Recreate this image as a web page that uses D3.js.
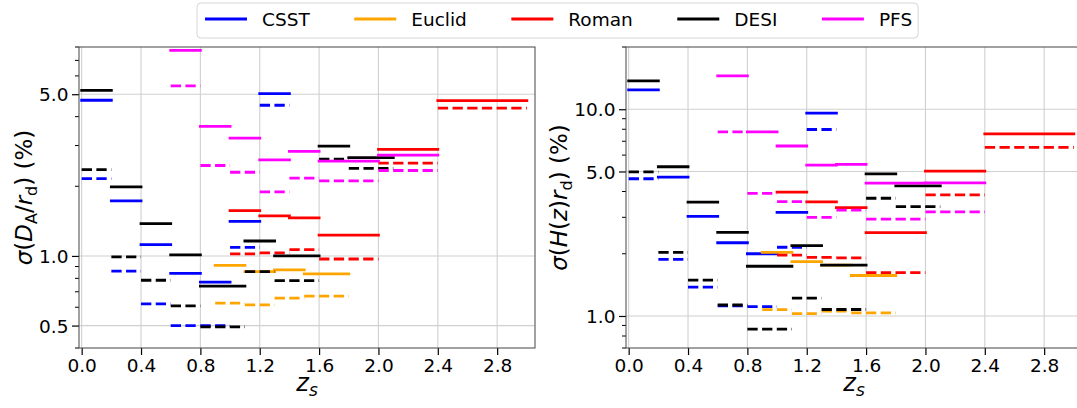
<!DOCTYPE html>
<html>
<head>
<meta charset="utf-8">
<script src="https://cdn.jsdelivr.net/npm/d3@7"></script>
<style>
  body { margin: 0; background: #fff; }
  text { font-family: "DejaVu Sans", sans-serif; }
</style>
</head>
<body>
<svg id="fig"></svg>
<script>
// figure size
const W = 1077, H = 408;

// surveys, legend order
const surveys = ["CSST", "Euclid", "Roman", "DESI", "PFS"];
const colors = ["#0000ff", "#ffa500", "#ff0000", "#000000", "#ff00ff"];

// redshift bin edges (low / high) per survey
const csstLo = [0.0, 0.2, 0.4, 0.6, 0.8, 1.0, 1.2];
const csstHi = [0.2, 0.4, 0.6, 0.8, 1.0, 1.2, 1.4];
const euclidLo = [0.9, 1.1, 1.3, 1.5];
const euclidHi = [1.1, 1.3, 1.5, 1.8];
const romanLo = [1.0, 1.2, 1.4, 1.6, 2.0, 2.4];
const romanHi = [1.2, 1.4, 1.6, 2.0, 2.4, 3.0];
const desiLo = [0.0, 0.2, 0.4, 0.6, 0.8, 1.1, 1.3, 1.6, 1.8];
const desiHi = [0.2, 0.4, 0.6, 0.8, 1.1, 1.3, 1.6, 1.8, 2.1];
const pfsLo = [0.6, 0.8, 1.0, 1.2, 1.4, 1.6, 2.0];
const pfsHi = [0.8, 1.0, 1.2, 1.4, 1.6, 2.0, 2.4];

// sigma(D_A/r_d) in %, solid and dashed
const csstDA = [4.71, 1.73, 1.12, 0.84, 0.77, 1.41, 5.03];
const csstDA2 = [2.16, 0.86, 0.62, 0.50, 0.50, 1.09, 4.48];
const euclidDA = [0.91, 0.855, 0.87, 0.836];
const euclidDA2 = [0.625, 0.615, 0.657, 0.67];
const romanDA = [1.57, 1.49, 1.46, 1.23, 2.89, 4.69];
const romanDA2 = [1.02, 1.03, 1.065, 0.97, 2.52, 4.35];
const desiDA = [5.2, 1.99, 1.38, 1.01, 0.74, 1.16, 1.0, 2.98, 2.66];
const desiDA2 = [2.36, 0.99, 0.785, 0.608, 0.494, 0.856, 0.782, 2.62, 2.39];
const pfsDA = [7.74, 3.63, 3.23, 2.60, 2.83, 2.57, 2.73];
const pfsDA2 = [5.43, 2.46, 2.30, 1.89, 2.17, 2.11, 2.34];

// sigma(H(z) r_d) in %, solid and dashed
const csstH = [12.4, 4.69, 3.03, 2.26, 2.00, 3.17, 9.57];
const csstH2 = [4.61, 1.88, 1.38, 1.12, 1.11, 2.15, 7.98];
const euclidH = [2.03, 1.83, 1.76, 1.57];
const euclidH2 = [1.073, 1.026, 1.055, 1.034];
const romanH = [3.97, 3.56, 3.34, 2.53, 5.02, 7.60];
const romanH2 = [1.97, 1.92, 1.91, 1.62, 3.85, 6.54];
const desiH = [13.7, 5.27, 3.55, 2.54, 1.74, 2.19, 1.76, 4.87, 4.26];
const desiH2 = [4.98, 2.03, 1.49, 1.13, 0.864, 1.22, 1.075, 3.71, 3.38];
const pfsH = [14.5, 7.77, 6.64, 5.37, 5.41, 4.39, 4.40];
const pfsH2 = [7.77, 3.92, 3.57, 3.0, 3.25, 2.94, 3.19];

// ticks
const zTicks = [0.0, 0.4, 0.8, 1.2, 1.6, 2.0, 2.4, 2.8];
const daTicks = [0.5, 1.0, 5.0];
const hTicks = [1.0, 5.0, 10.0];

const binsLo = [csstLo, euclidLo, romanLo, desiLo, pfsLo];
const binsHi = [csstHi, euclidHi, romanHi, desiHi, pfsHi];
const daSolid = [csstDA, euclidDA, romanDA, desiDA, pfsDA];
const daDash = [csstDA2, euclidDA2, romanDA2, desiDA2, pfsDA2];
const hSolid = [csstH, euclidH, romanH, desiH, pfsH];
const hDash = [csstH2, euclidH2, romanH2, desiH2, pfsH2];

const svg = d3.select("#fig").attr("width", W).attr("height", H);

const TOP = 47, BOTTOM = 348, PW = 456;
const FS = 18.5; // tick font size
const LW = 2.8;

function drawPanel(left, yDomain, yTicks, solid, dashed, labelParts, labelX) {
  const x = d3.scaleLinear().domain([-0.018, 3.055]).range([left, left + PW]);
  const y = d3.scaleLog().domain(yDomain).range([BOTTOM, TOP]);
  const g = svg.append("g");

  // clip so the lines stay in the axes
  const cid = "clip" + left;
  svg.append("clipPath").attr("id", cid)
    .append("rect").attr("x", left).attr("y", TOP).attr("width", PW).attr("height", BOTTOM - TOP);

  // grid
  g.selectAll(".gx").data(zTicks).enter().append("line")
    .attr("x1", d => x(d)).attr("x2", d => x(d))
    .attr("y1", TOP).attr("y2", BOTTOM)
    .attr("stroke", "#d0d0d0").attr("stroke-width", 1.1);
  g.selectAll(".gy").data(yTicks).enter().append("line")
    .attr("x1", left).attr("x2", left + PW)
    .attr("y1", d => y(d)).attr("y2", d => y(d))
    .attr("stroke", "#d0d0d0").attr("stroke-width", 1.1);

  // bars
  const lines = g.append("g").attr("clip-path", "url(#" + cid + ")");
  surveys.forEach((s, k) => {
    binsLo[k].forEach((lo, i) => {
      lines.append("line")
        .attr("x1", x(lo)).attr("x2", x(binsHi[k][i]))
        .attr("y1", y(solid[k][i])).attr("y2", y(solid[k][i]))
        .attr("stroke", colors[k]).attr("stroke-width", LW)
        .attr("stroke-linecap", "square");
      lines.append("line")
        .attr("x1", x(lo)).attr("x2", x(binsHi[k][i]))
        .attr("y1", y(dashed[k][i])).attr("y2", y(dashed[k][i]))
        .attr("stroke", colors[k]).attr("stroke-width", LW)
        .attr("stroke-dasharray", "10.3,4.4");
    });
  });

  // x axis
  const xAxis = g.append("g").attr("transform", "translate(0," + BOTTOM + ")")
    .call(d3.axisBottom(x).tickValues(zTicks).tickFormat(d3.format(".1f"))
      .tickSizeInner(7).tickSizeOuter(0).tickPadding(4));
  xAxis.select(".domain").remove();
  xAxis.selectAll("line").attr("stroke-width", 1.2);
  xAxis.selectAll("text").attr("font-size", FS).attr("font-family", "DejaVu Sans");

  // y axis, major
  const yAxis = g.append("g").attr("transform", "translate(" + left + ",0)")
    .call(d3.axisLeft(y).tickValues(yTicks).tickFormat(d3.format(".1f"))
      .tickSizeInner(7).tickSizeOuter(0).tickPadding(3.5));
  yAxis.select(".domain").remove();
  yAxis.selectAll("line").attr("stroke-width", 1.2);
  yAxis.selectAll("text").attr("font-size", FS).attr("font-family", "DejaVu Sans")
    .attr("dy", "0.36em");

  // y axis, log minor ticks
  const minors = [];
  [-1, 0, 1].forEach(e => {
    for (let m = 2; m <= 9; m++) {
      const v = m * Math.pow(10, e);
      if (v >= yDomain[0] - 1e-9 && v <= yDomain[1] + 1e-9 && !yTicks.includes(v)) minors.push(v);
    }
  });
  g.selectAll(".minor").data(minors).enter().append("line")
    .attr("x1", left - 4).attr("x2", left)
    .attr("y1", d => y(d)).attr("y2", d => y(d))
    .attr("stroke", "#000").attr("stroke-width", 1);

  // frame
  g.append("rect").attr("x", left).attr("y", TOP).attr("width", PW).attr("height", BOTTOM - TOP)
    .attr("fill", "none").attr("stroke", "#444").attr("stroke-width", 1);

  // x label
  const xl = g.append("text").attr("x", left + PW / 2).attr("y", 391)
    .attr("text-anchor", "middle").attr("font-size", 24);
  xl.append("tspan").attr("font-style", "italic").text("z");
  xl.append("tspan").attr("font-style", "italic").attr("font-size", 17).attr("dy", 5).text("s");

  // y label
  const yl = g.append("text")
    .attr("transform", "translate(" + labelX + "," + ((TOP + BOTTOM) / 2) + ") rotate(-90)")
    .attr("text-anchor", "middle").attr("font-size", 23);
  labelParts.forEach(p => {
    const t = yl.append("tspan").text(p[0]);
    if (p[1] === "i") t.attr("font-style", "italic");
    if (p[1] === "sub") t.attr("font-size", 16).attr("dy", 5);
    if (p[2]) t.attr("dy", p[2]);
  });
}

drawPanel(79, [0.4, 8], daTicks, daSolid, daDash,
  [["σ", "i"], ["("], ["D", "i"], ["A", "sub"], ["/", null, -5], ["r", "i"], ["d", "sub"], [") (%)", null, -5]], 32);
drawPanel(626, [0.7, 20], hTicks, hSolid, hDash,
  [["σ", "i"], ["("], ["H", "i"], ["("], ["z", "i"], [")"], ["r", "i"], ["d", "sub"], [") (%)", null, -5]], 567);

// legend
const leg = svg.append("g");
const box = leg.append("rect").attr("x", 197).attr("y", 3).attr("height", 35).attr("rx", 4)
  .attr("fill", "#fff").attr("stroke", "#d6d6d6").attr("stroke-width", 1);
let lx = 205;
const GAP = 44.5;
surveys.forEach((s, k) => {
  leg.append("line").attr("x1", lx).attr("x2", lx + 42).attr("y1", 19).attr("y2", 19)
    .attr("stroke", colors[k]).attr("stroke-width", LW);
  const t = leg.append("text").attr("x", lx + 57).attr("y", 26).attr("font-size", FS).text(s);
  lx = lx + 57 + t.node().getComputedTextLength() + GAP;
});
box.attr("width", lx - GAP + 6 - 197);
</script>
</body>
</html>
